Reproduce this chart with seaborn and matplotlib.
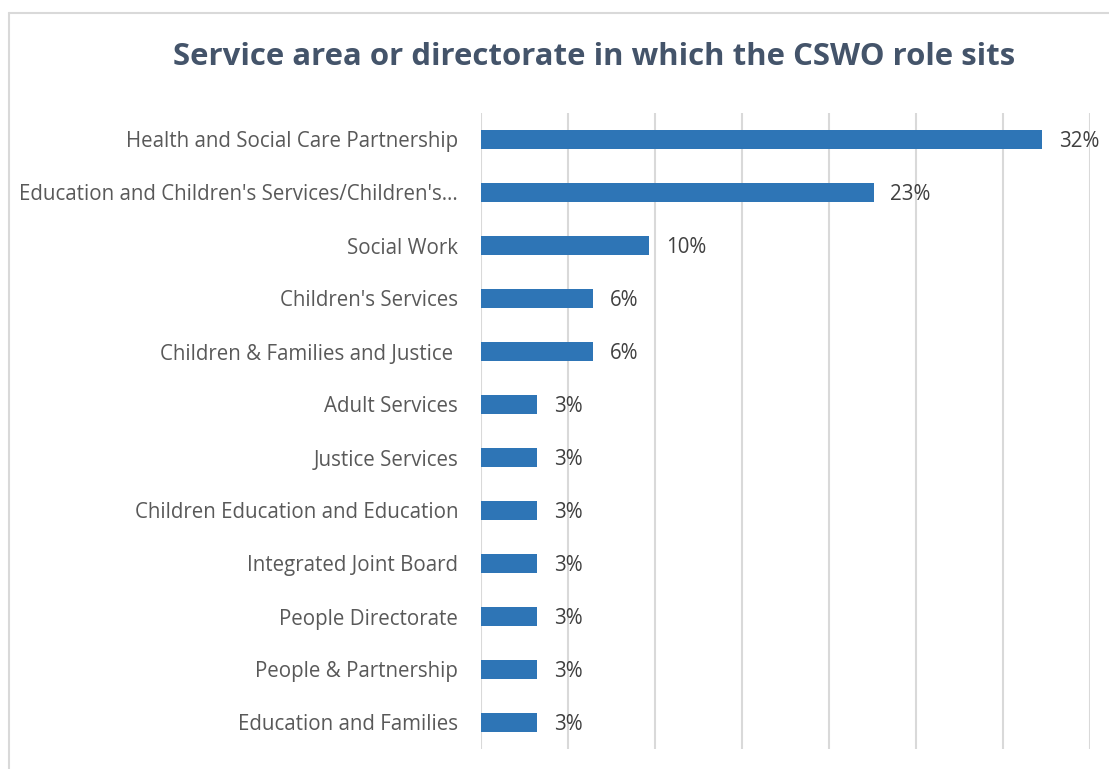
import matplotlib
matplotlib.use("Agg")
import matplotlib.pyplot as plt
import seaborn as sns
import pandas as pd
from matplotlib.lines import Line2D

# Share of respondents (n = 31) by the service area hosting the CSWO role
categories = [
    "Health and Social Care Partnership",
    "Education and Children's Services/Children's\u2026",
    "Social Work",
    "Children's Services",
    "Children & Families and Justice ",
    "Adult Services",
    "Justice Services",
    "Children Education and Education",
    "Integrated Joint Board",
    "People Directorate",
    "People & Partnership",
    "Education and Families",
]
counts = [10, 7, 3, 2, 2, 1, 1, 1, 1, 1, 1, 1]
total = 31
shares = [100 * c / total for c in counts]

df = pd.DataFrame({"category": categories, "share": shares})

sns.set_theme(style="white")
plt.rcParams["font.family"] = ["Open Sans", "DejaVu Sans"]

W, H = 1109, 769
fig = plt.figure(figsize=(W / 100, H / 100), dpi=100)
ax = fig.add_axes([481 / W, 1 - 749 / H, (1090 - 481) / W, (749 - 113) / H])

sns.barplot(data=df, x="share", y="category", color="#2E75B6", width=0.37,
            saturation=1, linewidth=0, ax=ax, zorder=3)

ax.set_xlim(0, 35)
ax.set_ylim(len(categories) - 0.5, -0.5)
ax.set_xticks(range(0, 36, 5))
ax.grid(axis="x", color="#D9D9D9", linewidth=1.5, zorder=0)
ax.tick_params(axis="x", bottom=False, labelbottom=False)
ax.tick_params(axis="y", left=False, length=0, pad=16.5, labelsize=14.8,
               labelcolor="#595959")
for s in ax.spines.values():
    s.set_visible(False)
ax.set_xlabel("")
ax.set_ylabel("")

for i, v in enumerate(shares):
    ax.text(v + 0.95, i + 0.03, f"{v:.0f}%", va="center", ha="left",
            fontsize=14.8, color="#404040")

fig.text(594 / W, 1 - 57 / H, "Service area or directorate in which the CSWO role sits",
         ha="center", va="center", fontsize=22.4, fontweight="bold", color="#44546A")

# Chart area frame (top and left edges)
fig.add_artist(Line2D([9 / W, 1], [1 - 13 / H, 1 - 13 / H], color="#D9D9D9",
                      linewidth=1.5, transform=fig.transFigure))
fig.add_artist(Line2D([9 / W, 9 / W], [0, 1 - 13 / H], color="#D9D9D9",
                      linewidth=1.5, transform=fig.transFigure))

fig.savefig("out.png", dpi=100)
